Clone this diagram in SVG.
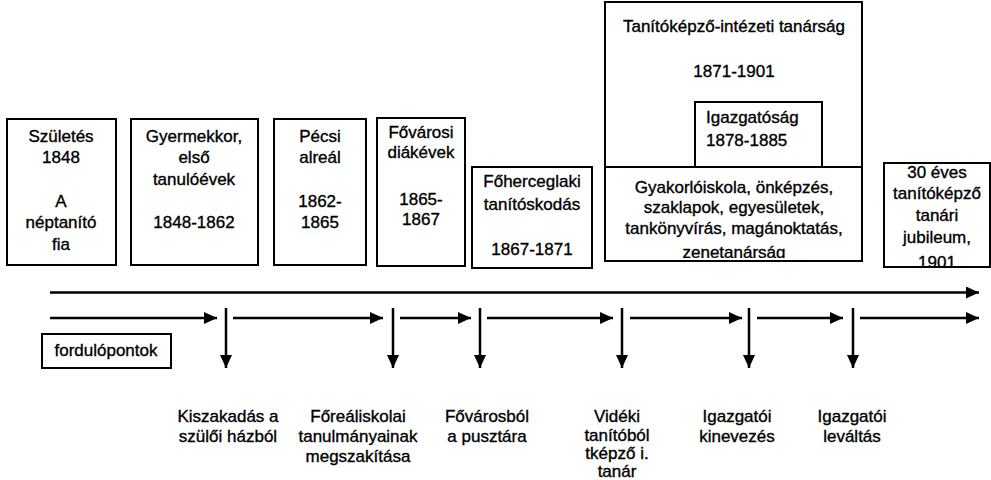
<svg xmlns="http://www.w3.org/2000/svg" width="991" height="480" viewBox="0 0 991 480">
<style>
.b{fill:#fff;stroke:#000;stroke-width:2}
text{font-family:"Liberation Sans",Arial,sans-serif;font-size:17px;fill:#000;stroke:#000;stroke-width:0.35;text-anchor:middle}
.l{text-anchor:start}
.c{fill:none;stroke:#000;stroke-width:2.5}
</style>
<defs>
<marker id="ah" markerUnits="userSpaceOnUse" markerWidth="14" markerHeight="12" refX="13" refY="6" orient="auto">
<path d="M0,0 L13,6 L0,12 z" fill="#000"/>
</marker>
<clipPath id="cpBig"><rect x="606" y="168" width="255" height="90"/></clipPath>
<clipPath id="cp30"><rect x="885" y="164" width="104" height="102"/></clipPath>
</defs>
<rect width="991" height="480" fill="#fff"/>

<g id="n-szuletes">
<rect class="b" x="7" y="119" width="109" height="146"/>
<text x="61" y="142">Születés</text>
<text x="61" y="163">1848</text>
<text x="61" y="207">A</text>
<text x="61" y="228">néptanító</text>
<text x="61" y="250">fia</text>
</g>
<g id="n-gyermekkor">
<rect class="b" x="131" y="119" width="127" height="146"/>
<text x="194" y="142">Gyermekkor,</text>
<text x="194" y="163">első</text>
<text x="194" y="185">tanulóévek</text>
<text x="194" y="228">1848-1862</text>
</g>
<g id="n-pecsi">
<rect class="b" x="274" y="119" width="92" height="146"/>
<text x="320" y="142">Pécsi</text>
<text x="320" y="163">alreál</text>
<text x="320" y="207">1862-</text>
<text x="320" y="228">1865</text>
</g>
<g id="n-fovarosi">
<rect class="b" x="377" y="118" width="88" height="148"/>
<text x="421" y="138">Fővárosi</text>
<text x="421" y="158">diákévek</text>
<text x="421" y="205">1865-</text>
<text x="421" y="225">1867</text>
</g>
<g id="n-foherceglaki">
<rect class="b" x="472" y="167" width="120" height="101"/>
<text x="532" y="187">Főherceglaki</text>
<text x="532" y="210">tanítóskodás</text>
<text x="532" y="255">1867-1871</text>
</g>
<g id="n-tanitokepzo">
<rect class="b" x="605" y="2" width="257" height="259"/>
<line x1="605" y1="167" x2="862" y2="167" stroke="#000" stroke-width="2"/>
<text x="734" y="32">Tanítóképző-intézeti tanárság</text>
<text x="734" y="77">1871-1901</text>
<g clip-path="url(#cpBig)">
<text x="734" y="193">Gyakorlóiskola, önképzés,</text>
<text x="734" y="213">szaklapok, egyesületek,</text>
<text x="734" y="234">tankönyvírás, magánoktatás,</text>
<text x="734" y="257.5">zenetanárság</text>
</g>
</g>
<g id="n-igazgatosag">
<rect class="b" x="695" y="102" width="127" height="65"/>
<text class="l" x="706" y="123">Igazgatóság</text>
<text class="l" x="706" y="146">1878-1885</text>
</g>
<g id="n-jubileum">
<rect class="b" x="884" y="163" width="106" height="104"/>
<g clip-path="url(#cp30)">
<text x="937" y="178">30 éves</text>
<text x="937" y="199">tanítóképző</text>
<text x="937" y="221">tanári</text>
<text x="937" y="243">jubileum,</text>
<text x="937" y="268">1901</text>
</g>
</g>
<g id="n-fordulopontok">
<rect class="b" x="42" y="334" width="129" height="34"/>
<text x="106" y="356">fordulópontok</text>
</g>

<g id="connectors">
<line class="c" x1="50" y1="292.5" x2="979" y2="292.5" marker-end="url(#ah)"/>
<line class="c" x1="50" y1="318" x2="217" y2="318" marker-end="url(#ah)"/>
<line class="c" x1="233" y1="318" x2="383" y2="318" marker-end="url(#ah)"/>
<line class="c" x1="400" y1="318" x2="471" y2="318" marker-end="url(#ah)"/>
<line class="c" x1="487" y1="318" x2="613" y2="318" marker-end="url(#ah)"/>
<line class="c" x1="630" y1="318" x2="742" y2="318" marker-end="url(#ah)"/>
<line class="c" x1="757" y1="318" x2="843" y2="318" marker-end="url(#ah)"/>
<line class="c" x1="860" y1="318" x2="979" y2="318" marker-end="url(#ah)"/>
<line class="c" x1="226" y1="308" x2="226" y2="368" marker-end="url(#ah)"/>
<line class="c" x1="393" y1="308" x2="393" y2="368" marker-end="url(#ah)"/>
<line class="c" x1="480" y1="308" x2="480" y2="368" marker-end="url(#ah)"/>
<line class="c" x1="622" y1="308" x2="622" y2="368" marker-end="url(#ah)"/>
<line class="c" x1="749" y1="308" x2="749" y2="368" marker-end="url(#ah)"/>
<line class="c" x1="853" y1="308" x2="853" y2="368" marker-end="url(#ah)"/>
</g>

<g id="labels">
<text x="228" y="422">Kiszakadás a</text>
<text x="228" y="442">szülői házból</text>
<text x="358" y="422">Főreáliskolai</text>
<text x="358" y="442">tanulmányainak</text>
<text x="358" y="462">megszakítása</text>
<text x="487" y="422">Fővárosból</text>
<text x="487" y="442">a pusztára</text>
<text x="617" y="422">Vidéki</text>
<text x="617" y="441">tanítóból</text>
<text x="617" y="459">tképző i.</text>
<text x="617" y="477">tanár</text>
<text x="737" y="422">Igazgatói</text>
<text x="737" y="442">kinevezés</text>
<text x="852" y="422">Igazgatói</text>
<text x="852" y="442">leváltás</text>
</g>
</svg>
